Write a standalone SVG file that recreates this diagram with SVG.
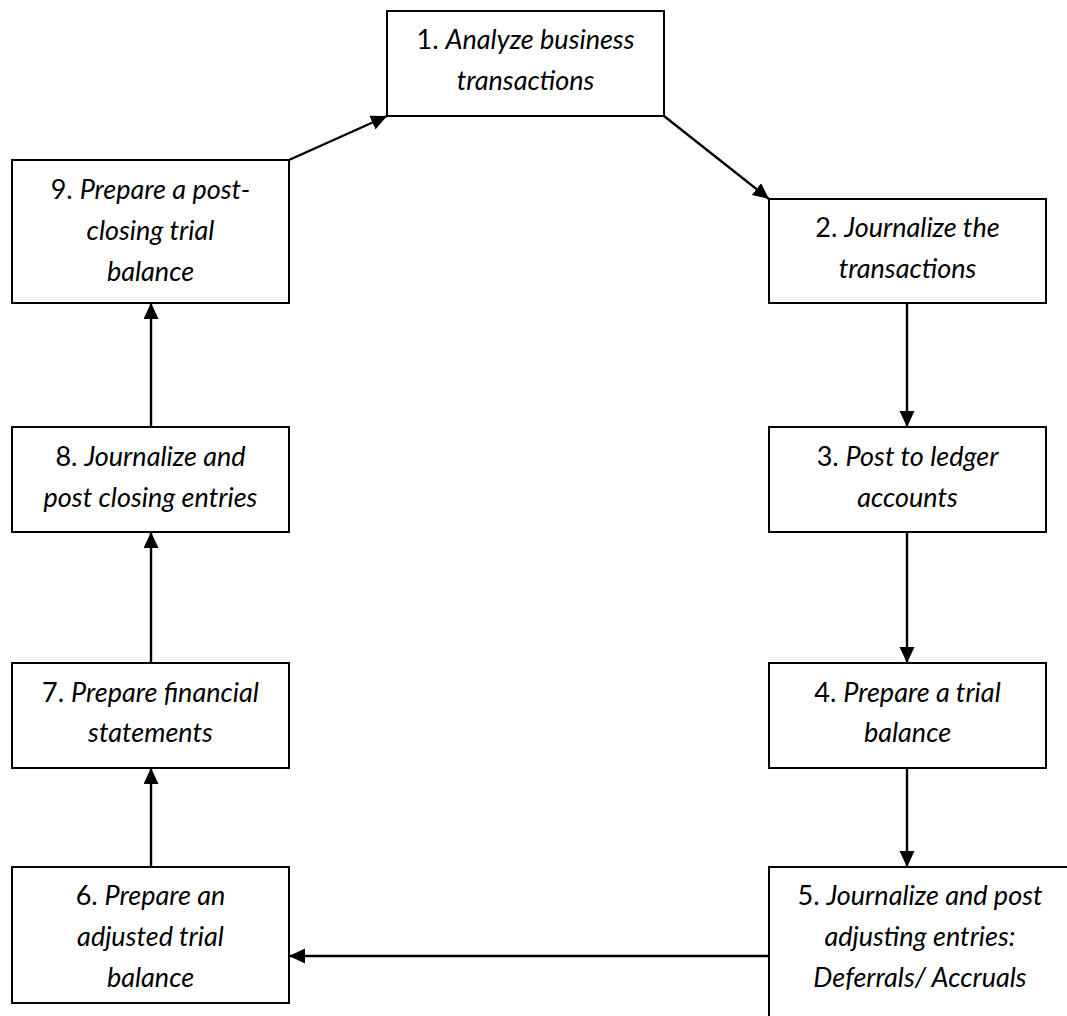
<svg xmlns="http://www.w3.org/2000/svg" width="1067" height="1016" viewBox="0 0 1067 1016">
<defs>
<style>
.box{fill:#fff;stroke:#000;stroke-width:2}
.t{font-family:Lato,"Open Sans","Liberation Sans",sans-serif;font-size:27px;fill:#000;text-anchor:middle}
.i{font-style:italic}
.c{stroke:#000;stroke-width:2.4;fill:none;marker-end:url(#ah)}
</style>
<marker id="ah" markerUnits="userSpaceOnUse" markerWidth="16" markerHeight="16" refX="16" refY="7.5" orient="auto">
<path d="M0,0 L16,7.5 L0,15 z" fill="#000"/>
</marker>
</defs>
<rect width="1067" height="1016" fill="#fff"/>
<g id="connectors">
<line class="c" x1="289" y1="160" x2="387" y2="116"/>
<line class="c" x1="664" y1="116" x2="769" y2="199"/>
<line class="c" x1="907" y1="303" x2="907" y2="427"/>
<line class="c" x1="907" y1="532" x2="907" y2="663"/>
<line class="c" x1="907" y1="768" x2="907" y2="867"/>
<line class="c" x1="769" y1="956" x2="289" y2="956"/>
<line class="c" x1="151" y1="867" x2="151" y2="768"/>
<line class="c" x1="151" y1="663" x2="151" y2="532"/>
<line class="c" x1="151" y1="427" x2="151" y2="303"/>
</g>
<g id="node1">
<rect class="box" x="387" y="11" width="277" height="105"/>
<text class="t" x="525.5" y="49">1. <tspan class="i">Analyze business</tspan></text>
<text class="t i" x="525.5" y="90">transactions</text>
</g>
<g id="node2">
<rect class="box" x="769" y="199" width="277" height="104"/>
<text class="t" x="907.5" y="237">2. <tspan class="i">Journalize the</tspan></text>
<text class="t i" x="907.5" y="278">transactions</text>
</g>
<g id="node3">
<rect class="box" x="769" y="427" width="277" height="105"/>
<text class="t" x="907.5" y="466">3. <tspan class="i">Post to ledger</tspan></text>
<text class="t i" x="907.5" y="507">accounts</text>
</g>
<g id="node4">
<rect class="box" x="769" y="663" width="277" height="105"/>
<text class="t" x="907.5" y="702">4. <tspan class="i">Prepare a trial</tspan></text>
<text class="t i" x="907.5" y="742">balance</text>
</g>
<g id="node5">
<rect class="box" x="769" y="867" width="310" height="160"/>
<text class="t" x="920" y="905">5. <tspan class="i">Journalize and post</tspan></text>
<text class="t i" x="920" y="946">adjusting entries:</text>
<text class="t i" x="920" y="987">Deferrals/ Accruals</text>
</g>
<g id="node6">
<rect class="box" x="12" y="867" width="277" height="136"/>
<text class="t" x="150.5" y="905">6. <tspan class="i">Prepare an</tspan></text>
<text class="t i" x="150.5" y="946">adjusted trial</text>
<text class="t i" x="150.5" y="987">balance</text>
</g>
<g id="node7">
<rect class="box" x="12" y="663" width="277" height="105"/>
<text class="t" x="150.5" y="702">7. <tspan class="i">Prepare financial</tspan></text>
<text class="t i" x="150.5" y="742">statements</text>
</g>
<g id="node8">
<rect class="box" x="12" y="427" width="277" height="105"/>
<text class="t" x="150.5" y="466">8. <tspan class="i">Journalize and</tspan></text>
<text class="t i" x="150.5" y="507">post closing entries</text>
</g>
<g id="node9">
<rect class="box" x="12" y="160" width="277" height="143"/>
<text class="t" x="150.5" y="199">9. <tspan class="i">Prepare a post-</tspan></text>
<text class="t i" x="150.5" y="240">closing trial</text>
<text class="t i" x="150.5" y="281">balance</text>
</g>
</svg>
